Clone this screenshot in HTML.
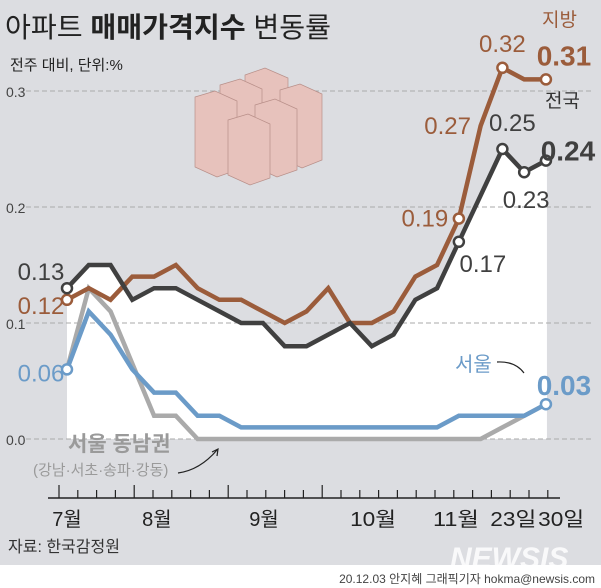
<!DOCTYPE html>
<html><head><meta charset="utf-8">
<style>
body{margin:0;width:601px;height:588px;overflow:hidden;background:#fff;font-family:"Liberation Sans","Noto Sans CJK KR",sans-serif}
svg{display:block}
text{font-family:"Liberation Sans","Noto Sans CJK KR",sans-serif}
</style></head>
<body>
<svg id="chart" width="601" height="588" viewBox="0 0 601 588">
<rect x="0" y="0" width="601" height="565" fill="#dcdde1"/>
<path id="area" fill="#ffffff"/>
<g id="grid"></g>
<text x="5" y="37" font-size="28" fill="#222" textLength="326" lengthAdjust="spacingAndGlyphs">아파트 <tspan font-weight="bold">매매가격지수</tspan> 변동률</text>
<text x="10" y="70" font-size="15" fill="#222">전주 대비, 단위:%</text>
<g>
  <g fill="#e7c2bc" stroke="#b88f89" stroke-width="0.7">
    <polygon points="245,75 265,68 288,78 288,135 268,142 245,132"/>
    <polygon points="280,90 300,84 322,94 322,160 302,168 280,158"/>
    <polygon points="220,85 240,79 262,89 262,150 242,157 220,147"/>
    <polygon points="255,105 275,99 297,109 297,170 277,177 255,167"/>
    <polygon points="195,97 215,91 237,101 237,170 217,177 195,167"/>
    <polygon points="228,120 248,114 270,124 270,178 250,185 228,175"/>
  </g>
</g>
<g id="series"></g>
<g id="labels"></g>
<g id="xaxis"></g>
<text x="68" y="451" font-size="21" font-weight="bold" fill="#9a9a9a">서울 동남권</text>
<text x="33" y="475" font-size="15" fill="#9a9a9a">(강남·서초·송파·강동)</text>
<path d="M178,473 Q200,470 217,450" fill="none" stroke="#222" stroke-width="1.2"/>
<path d="M212,452 L218,449 L217,456" fill="none" stroke="#222" stroke-width="1.2"/>
<text x="455" y="371" font-size="20" fill="#6b9bc8">서울</text>
<path d="M497,362 Q515,361 524,373" fill="none" stroke="#222" stroke-width="1.2"/>
<text x="542" y="26" font-size="19" fill="#9b5c3b">지방</text>
<text x="545" y="107" font-size="19" fill="#333">전국</text>
<text x="8" y="552" font-size="16" fill="#333">자료: 한국감정원</text>
<text x="450" y="568" font-size="30" font-weight="bold" font-style="italic" fill="#ffffff" opacity="0.85">NEWSIS</text>
<text x="595" y="583" font-size="12" fill="#444" text-anchor="end">20.12.03 안지혜 그래픽기자 hokma@newsis.com</text>
</svg>
<script>
const national=[0.13,0.15,0.15,0.12,0.13,0.13,0.12,0.11,0.10,0.10,0.08,0.08,0.09,0.10,0.08,0.09,0.12,0.13,0.17,0.21,0.25,0.23,0.24];
const local=[0.12,0.13,0.12,0.14,0.14,0.15,0.13,0.12,0.12,0.11,0.10,0.11,0.13,0.10,0.10,0.11,0.14,0.15,0.19,0.27,0.32,0.31,0.31];
const seoul=[0.06,0.11,0.09,0.06,0.04,0.04,0.02,0.02,0.01,0.01,0.01,0.01,0.01,0.01,0.01,0.01,0.01,0.01,0.02,0.02,0.02,0.02,0.03];
const gangnam=[0.06,0.13,0.11,0.065,0.02,0.02,0.00,0.00,0.00,0.00,0.00,0.00,0.00,0.00,0.00,0.00,0.00,0.00,0.00,0.00,0.01,0.02,0.03];
const yTicks=[0.0,0.1,0.2,0.3];
const yTickLabels=["0.0","0.1","0.2","0.3"];
const monthLabels=["7월","8월","9월","10월","11월","23일","30일"];
const monthWeekIdx=[0,4.13,9.05,14.06,17.87,20.5,22.7];
const ns="http://www.w3.org/2000/svg";
const X=i=>67+i*21.77;
const Y=v=>439-v*1160;
function mk(tag,attrs,parent){const e=document.createElementNS(ns,tag);for(const k in attrs)e.setAttribute(k,attrs[k]);parent.appendChild(e);return e;}
const grid=document.getElementById('grid');
yTicks.forEach((t,i)=>{
  const l=mk('line',{x1:26,x2:592,y1:Y(t),y2:Y(t),stroke:'#aaa','stroke-dasharray':'5,3','stroke-width':1},grid);
  
  
  const tx=mk('text',{x:6,y:Y(t)+6,'font-size':14,fill:'#444'},grid);
  tx.textContent=yTickLabels[i];
  
  
});
let d='M'+X(0)+','+Y(0);
national.forEach((v,i)=>{d+=' L'+X(i)+','+Y(v);});
d+=' L'+(X(national.length-1)+1)+','+Y(national[national.length-1])+' L'+(X(national.length-1)+1)+','+Y(0)+' Z';
document.getElementById('area').setAttribute('d',d);
const sg=document.getElementById('series');
function line(arr,color,name){
  const p=mk('polyline',{points:arr.map((v,i)=>X(i)+','+Y(v)).join(' '),fill:'none',stroke:color,'stroke-width':4.5,'stroke-linejoin':'miter'},sg);
  
  
}
line(gangnam,'#aaaaaa','gangnam-line');
line(seoul,'#6b9bc8','seoul-line');
line(local,'#9b5c3b','local-line');
line(national,'#404040','national-line');
function dot(arr,i,color,name){
  const c=mk('circle',{cx:X(i),cy:Y(arr[i]),r:5,fill:'#fff',stroke:color,'stroke-width':2.5},sg);
  
  
}
[0,18,20,22].forEach(i=>dot(local,i,'#9b5c3b','local-point'));
[0,18,20,21,22].forEach(i=>dot(national,i,'#404040','national-point'));
[0,22].forEach(i=>dot(seoul,i,'#6b9bc8','seoul-point'));
const lg=document.getElementById('labels');
function lab(arr,i,dx,dy,color,size,bold,anchor){
  const t=mk('text',{x:X(i)+dx,y:Y(arr[i])+dy,'font-size':size,fill:color,'font-weight':bold?'bold':'normal','text-anchor':anchor||'middle'},lg);
  t.textContent=arr[i].toFixed(2);
  
  
}
lab(national,0,-26,-8,'#404040',24,false);
lab(local,0,-26,14,'#9b5c3b',24,false);
lab(seoul,0,-26,12,'#6b9bc8',24,false);
lab(local,18,-34,8,'#9b5c3b',24,false);
lab(national,18,24,30,'#404040',24,false);
lab(local,19,-33,8,'#9b5c3b',24,false);
lab(local,20,0,-16,'#9b5c3b',24,false);
lab(national,20,10,-18,'#404040',24,false);
lab(national,21,2,36,'#404040',24,false);
lab(local,22,18,-14,'#9b5c3b',28,true);
lab(national,22,22,0,'#404040',28,true);
lab(seoul,22,18,-9,'#6b9bc8',28,true);
const xg=document.getElementById('xaxis');
const ax=mk('line',{x1:48,x2:560,y1:498,y2:498,stroke:'#222','stroke-width':1.5},xg);


for(let k=0;k<27;k++){
  const x=59+k*18.8; if(x>556)break;
  const major=(k===0||k===4||k===9||k===14);
  mk('line',{x1:x,x2:x,y1:major?485:490,y2:498,stroke:'#222','stroke-width':1.2},xg);
}
monthLabels.forEach((m,i)=>{
  const t=mk('text',{x:X(monthWeekIdx[i]),y:526,'font-size':20,fill:'#222','text-anchor':'middle'},xg);
  t.textContent=m;
  if(m.length>2){t.setAttribute('textLength',m.length>2?46:0);t.setAttribute('lengthAdjust','spacingAndGlyphs');}
  
  
});
</script>
</body></html>
